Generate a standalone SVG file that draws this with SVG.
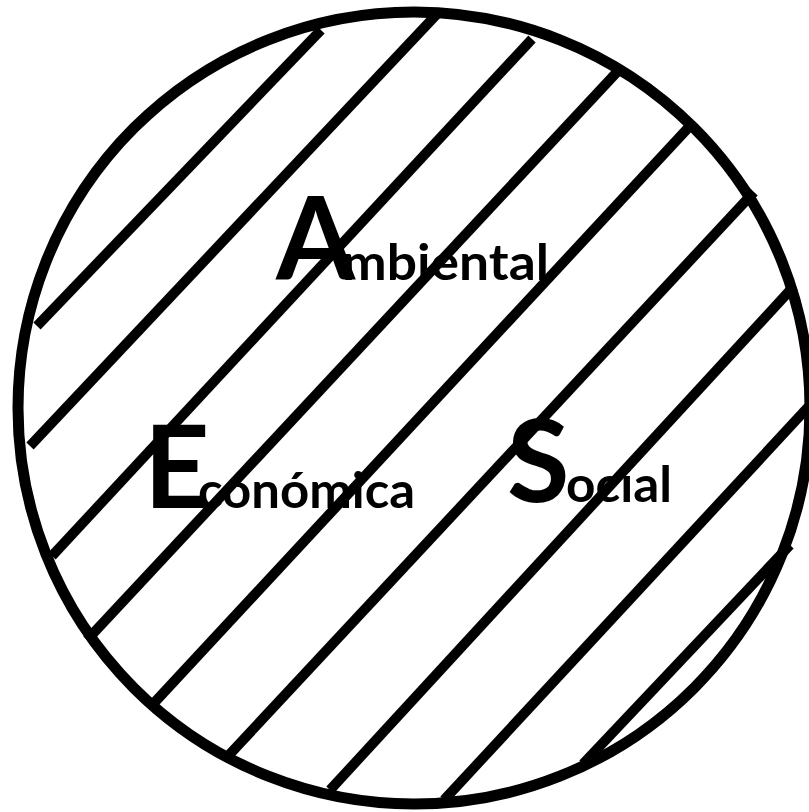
<svg xmlns="http://www.w3.org/2000/svg" width="809" height="812" viewBox="0 0 809 812">
  <style>
    .hatch line { stroke: #000; stroke-width: 10; stroke-linecap: butt; }
    .big { font-family: Lato, "Liberation Sans", sans-serif; font-weight: bold; font-size: 114px; fill: #000; }
    .small { font-family: Lato, "Liberation Sans", sans-serif; font-weight: bold; font-size: 49px; fill: #000; }
  </style>
  <rect width="809" height="812" fill="#fff"/>
  <g id="circle">
    <circle cx="414" cy="408" r="396" fill="none" stroke="#000" stroke-width="11"/>
  </g>
  <g id="labels">
    <g id="ambiental">
      <text class="big" x="276" y="280">A</text>
      <text class="small" x="342" y="280" textLength="207" lengthAdjust="spacingAndGlyphs">mbiental</text>
    </g>
    <g id="economica">
      <text class="big" x="144" y="508">E</text>
      <text class="small" x="198" y="508" textLength="217" lengthAdjust="spacingAndGlyphs">conómica</text>
    </g>
    <g id="social">
      <text class="big" x="507" y="502">S</text>
      <text class="small" x="566" y="502" textLength="106" lengthAdjust="spacingAndGlyphs">ocial</text>
    </g>
  </g>
  <g id="connectors" class="hatch">
    <line x1="37" y1="326" x2="321" y2="30"/>
    <line x1="30" y1="446" x2="437" y2="14"/>
    <line x1="52" y1="556" x2="532" y2="39"/>
    <line x1="87" y1="640" x2="618" y2="71"/>
    <line x1="154" y1="703" x2="689" y2="127"/>
    <line x1="229" y1="755" x2="754" y2="192"/>
    <line x1="330" y1="790" x2="794" y2="286"/>
    <line x1="444" y1="800" x2="812" y2="403"/>
    <line x1="583" y1="764" x2="790" y2="545"/>
  </g>
</svg>
